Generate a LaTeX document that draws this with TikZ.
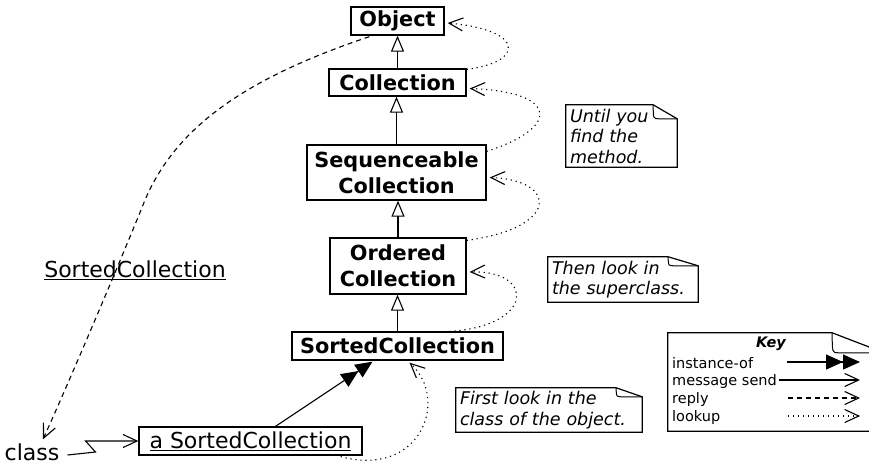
\documentclass[tikz,border=0pt]{standalone}
\usepackage{fontspec}
\setmainfont{DejaVu Sans}
\usetikzlibrary{arrows.meta,calc}
\begin{document}
\begin{tikzpicture}[x=1pt,y=-1pt,
  box/.style={draw, line width=1.3pt, align=center, inner sep=0pt, font=\bfseries\fontsize{20.8}{26}\selectfont},
  obox/.style={draw, line width=1.3pt, inner sep=0pt, font=\fontsize{22}{26}\selectfont},
  plain/.style={inner sep=0pt, font=\fontsize{22}{26}\selectfont},
  note/.style={align=left, inner xsep=4pt, inner ysep=0pt, font=\itshape\fontsize{17.5}{20.5}\selectfont},
  keytext/.style={anchor=west, inner sep=0pt, font=\fontsize{14.5}{17}\selectfont},
  gen/.style={line width=1.1pt, -{Triangle[open,length=16pt,width=13pt,fill=white]}},
  inst/.style={line width=1.1pt, -{Triangle[length=17pt,width=15pt]Triangle[length=17pt,width=15pt]}},
  msg/.style={line width=1.1pt, -{Straight Barb[length=14pt,width=13pt]}},
  reply/.style={msg, dash pattern=on 5pt off 4pt},
  lookup/.style={msg, dash pattern=on 1.2pt off 3.8pt},
]
\useasboundingbox (0,0) rectangle (869,467);
\fill[white] (0,0) rectangle (869,467);

% class boxes
\node[box, minimum width=93pt, minimum height=28pt] (obj) at (397.5,21) {Object};
\node[box, minimum width=137pt, minimum height=27pt] (col) at (397.5,82.5) {Collection};
\node[box, minimum width=179pt, minimum height=55pt] (seq) at (396.5,172.5) {Sequenceable\\Collection};
\node[box, minimum width=136pt, minimum height=56pt] (ord) at (398,266) {Ordered\\Collection};
\node[box, minimum width=211pt, minimum height=28pt] (sc) at (397.5,346) {SortedCollection};
\node[obox, minimum width=223pt, minimum height=28pt] (asc) at (250.5,441) {\underline{a SortedCollection}};
\node[plain] (sclbl) at (135,270) {\underline{SortedCollection}};
\node[plain] (cls) at (32,452) {class};

% notes
\node[note, text width=103pt, minimum height=62pt] (n1) at (621.5,136) {Until you\\find the\\method.};
\node[note, text width=142pt, minimum height=45pt] (n2) at (623,279.5) {Then look in\\the superclass.};
\node[note, text width=178pt, minimum height=44pt] (n3) at (549,410) {First look in the\\class of the object.};
\node[minimum width=216pt, minimum height=98pt, inner sep=0pt] (key) at (776,382) {};

\foreach \n/\fw/\fh in {n1/24/14, n2/30/9, n3/26/9, key/52/20}{
  \draw[line width=1.2pt] (\n.north west) -- ([xshift={-\fw*1pt}]\n.north east) -- ([yshift={-\fh*1pt}]\n.north east) -- (\n.south east) -- (\n.south west) -- cycle;
  \draw[line width=1pt] ([xshift={-\fw*1pt}]\n.north east) .. controls ([xshift={-\fw*1pt}, yshift={-\fh*1pt}]\n.north east) .. ([xshift={-\fw*1pt+6pt}, yshift={-\fh*1pt}]\n.north east) -- ([yshift={-\fh*1pt}]\n.north east);
}

% key contents
\node[inner sep=0pt, font=\bfseries\itshape\fontsize{14.5}{17}\selectfont] (keyt) at (771,344) {Key};
\node[keytext] (k1) at (672,363) {instance-of};
\node[keytext] (k2) at (672,381) {message send};
\node[keytext] (k3) at (672,399) {reply};
\node[keytext] (k4) at (672,417) {lookup};
\coordinate (k1s) at (787,362); \coordinate (k1e) at (860,362);
\coordinate (k2s) at (779,380); \coordinate (k2e) at (860,380);
\coordinate (k3s) at (788,398); \coordinate (k3e) at (860,398);
\coordinate (k4s) at (788,416); \coordinate (k4e) at (860,416);
\draw[inst] (k1s) -- (k1e);
\draw[msg] (k2s) -- (k2e);
\draw[reply] (k3s) -- (k3e);
\draw[lookup] (k4s) -- (k4e);

% generalization
\draw[gen] (col.north) -- (col.north |- obj.south);
\draw[gen] (seq.north) -- (seq.north |- col.south);
\draw[gen] (ord.north) -- (ord.north |- seq.south);
\draw[gen] (sc.north) -- (sc.north |- ord.south);

% instance-of
\draw[inst] ($(asc.north)+(25,0)$) -- ($(sc.south)+(-25,1)$);

% message send (lightning)
\draw[msg] ($(cls.east)+(8,3)$) -- ++(28,-3) -- ++(-10,-11) -- (asc.west);

% reply
\draw[reply] ($(obj.south west)+(19,1)$) .. controls (240,80) and (175,130) .. (145,200)
  .. controls (125,250) and (70,380) .. ($(cls.north)+(11,-4)$);

% lookup
\draw[lookup] ($(asc.south east)+(-22,1)$) .. controls (420,478) and (450,400) .. ($(sc.south)+(12,2)$);
\draw[lookup] ($(sc.north)+(52,0)$) .. controls (535,326) and (535,270) .. ($(ord.east)+(3,6)$);
\draw[lookup] ($(ord.north east)+(0,3)$) .. controls (560,228) and (558,180) .. ($(seq.east)+(3,5)$);
\draw[lookup] ($(seq.north east)+(0,7)$) .. controls (560,128) and (560,92) .. ($(col.east)+(3,6)$);
\draw[lookup] ($(col.north east)+(0,1)$) .. controls (525,62) and (525,30) .. ($(obj.east)+(3,2)$);
\end{tikzpicture}
\end{document}
